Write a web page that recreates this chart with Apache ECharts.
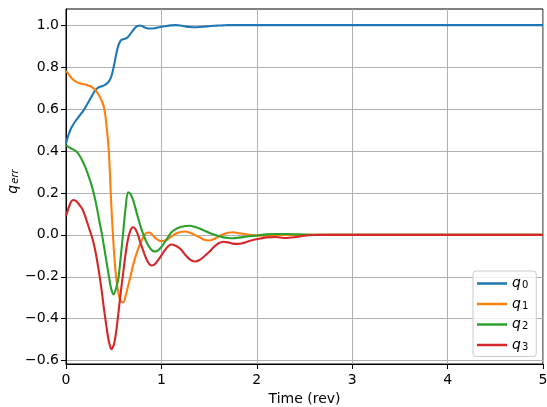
<!DOCTYPE html>
<html>
<head>
<meta charset="utf-8">
<script src="https://cdn.jsdelivr.net/npm/echarts@6/dist/echarts.min.js"></script>
<style>html,body{margin:0;padding:0;background:#fff;}#c{width:547px;height:407px;}</style>
</head>
<body>
<div id="c"></div>
<script>
// time (rev)
const time = [0,0.025,0.05,0.075,0.1,0.125,0.15,0.175,0.2,0.225,0.25,0.275,0.3,0.325,0.35,0.375,0.4,0.425,0.45,0.475,0.5,0.525,0.55,0.575,0.6,0.625,0.65,0.675,0.7,0.725,0.75,0.775,0.8,0.825,0.85,0.875,0.9,0.925,0.95,0.975,1.0,
  1.05,1.1,1.15,1.2,1.25,1.3,1.35,1.4,1.45,1.5,1.55,1.6,1.65,1.7,1.75,1.8,1.85,1.9,1.95,2.0,
  2.1,2.2,2.3,2.4,2.5,2.6,2.7,2.8,2.9,3.0,
  3.5,4.0,4.5,5.0];
const q0 = [0.435,0.475,0.505,0.525,0.543,0.558,0.573,0.588,0.605,0.625,0.645,0.665,0.685,0.698,0.705,0.709,0.713,0.72,0.732,0.755,0.8,0.858,0.905,0.927,0.933,0.936,0.944,0.958,0.974,0.988,0.996,0.998,0.995,0.989,0.985,0.984,0.984,0.985,0.987,0.99,0.992,
  0.996,0.999,1.0,0.998,0.994,0.991,0.99,0.991,0.993,0.995,0.997,0.998,0.999,1.0,1.0,1.0,1.0,1.0,1.0,1.0,
  1.0,1.0,1.0,1.0,1.0,1.0,1.0,1.0,1.0,1.0,
  1.0,1.0,1.0,1.0];
const q1 = [0.782,0.768,0.752,0.74,0.732,0.726,0.722,0.719,0.717,0.714,0.71,0.703,0.695,0.68,0.662,0.638,0.605,0.52,0.39,0.14,-0.06,-0.2,-0.28,-0.318,-0.322,-0.29,-0.245,-0.2,-0.15,-0.11,-0.075,-0.045,-0.02,0.0,0.01,0.011,0.003,-0.01,-0.02,-0.027,-0.03,
  -0.025,-0.01,0.005,0.014,0.016,0.01,0.0,-0.012,-0.024,-0.027,-0.02,-0.008,0.003,0.01,0.012,0.009,0.005,0.001,-0.002,-0.004,
  -0.003,-0.001,0,0,0,0,0,0,0,0,
  0,0,0,0];
const q2 = [0.428,0.42,0.413,0.407,0.4,0.39,0.372,0.35,0.325,0.295,0.262,0.225,0.18,0.125,0.065,0.007,-0.06,-0.13,-0.2,-0.26,-0.284,-0.255,-0.205,-0.1,0.015,0.13,0.203,0.195,0.17,0.132,0.09,0.05,0.015,-0.015,-0.04,-0.06,-0.073,-0.079,-0.078,-0.07,-0.058,
  -0.025,0.01,0.027,0.037,0.042,0.043,0.038,0.03,0.02,0.01,0.002,-0.006,-0.012,-0.015,-0.016,-0.014,-0.011,-0.008,-0.005,-0.003,
  0.002,0.004,0.004,0.003,0.001,0,0,0,0,0,
  0,0,0,0];
const q3 = [0.09,0.125,0.155,0.166,0.163,0.152,0.137,0.12,0.09,0.055,0.02,-0.015,-0.06,-0.12,-0.19,-0.27,-0.36,-0.44,-0.51,-0.545,-0.525,-0.465,-0.37,-0.27,-0.18,-0.09,-0.02,0.02,0.036,0.03,0.005,-0.03,-0.063,-0.095,-0.122,-0.14,-0.146,-0.142,-0.13,-0.115,-0.098,
  -0.065,-0.046,-0.052,-0.068,-0.095,-0.118,-0.127,-0.12,-0.102,-0.082,-0.058,-0.04,-0.033,-0.036,-0.042,-0.043,-0.04,-0.033,-0.026,-0.021,
  -0.012,-0.01,-0.015,-0.011,-0.004,-0.001,0,0,0,0,
  0,0,0,0];
const seriesNames = ['q0','q1','q2','q3'];
const seriesValues = [q0,q1,q2,q3];
const colors = ['#1f77b4','#ff7f0e','#2ca02c','#d62728'];
const yTicks = [-0.6,-0.4,-0.2,0.0,0.2,0.4,0.6,0.8,1.0];
const xTicks = [0,1,2,3,4,5];

const FONT = 'DejaVu Sans';
const rich = {
  q: {fontFamily: FONT, fontStyle: 'italic', fontSize: 14, lineHeight: 14, verticalAlign: 'top', color: '#000'},
  s: {fontFamily: FONT, fontSize: 10, lineHeight: 10, padding: [5,0,0,1], verticalAlign: 'bottom', color: '#000'},
  se: {fontFamily: FONT, fontStyle: 'italic', fontSize: 10, lineHeight: 10, padding: [5,0,0,1], verticalAlign: 'bottom', color: '#000'}
};

const chart = echarts.init(document.getElementById('c'), null, {renderer: 'canvas'});
chart.setOption({
  animation: false,
  backgroundColor: '#fff',
  grid: {left: 66, right: 4, top: 9, bottom: 43, show: true, borderColor: '#000', borderWidth: 1,
    backgroundColor: 'transparent', containLabel: false, outerBoundsMode: 'none'},
  xAxis: {
    type: 'value', min: 0, max: 5, interval: 1,
    name: 'Time (rev)', nameLocation: 'middle', nameGap: 28, nameMoveOverlap: false,
    nameTextStyle: {fontFamily: FONT, fontSize: 14, color: '#000'},
    axisLine: {show: true, onZero: false, lineStyle: {color: '#000', width: 1}},
    axisTick: {show: true, length: 5, lineStyle: {color: '#000', width: 1}},
    axisLabel: {fontFamily: FONT, fontSize: 14, color: '#000', margin: 9, formatter: v => String(v)},
    splitLine: {show: true, lineStyle: {color: '#b0b0b0', width: 1}}
  },
  yAxis: {
    type: 'value', min: -0.616, max: 1.077,
    name: '{q|q}{se|err}', nameLocation: 'middle', nameGap: 46, nameMoveOverlap: false,
    nameTextStyle: {rich: rich, padding: [0, 0, 0, 10]},
    axisLine: {show: true, onZero: false, lineStyle: {color: '#000', width: 1}},
    axisTick: {show: true, length: 5, customValues: yTicks, lineStyle: {color: '#000', width: 1}},
    axisLabel: {fontFamily: FONT, fontSize: 14, color: '#000', margin: 7, customValues: yTicks,
      formatter: v => (v < -1e-9 ? '\u2212' : '') + Math.abs(v).toFixed(1)},
    splitLine: {show: true, lineStyle: {color: '#b0b0b0', width: 1}}
  },
  legend: {
    orient: 'vertical', left: 473, top: 271,
    padding: [4.5, 8, 4.5, 4],
    itemGap: 5.5, itemWidth: 30, itemHeight: 2.5, itemTextGap: 9,
    icon: 'rect',
    borderColor: '#cccccc', borderWidth: 1, borderRadius: 3,
    backgroundColor: 'rgba(255,255,255,0.8)',
    data: seriesNames,
    formatter: name => '{q|q}{s|' + name.slice(1) + '}',
    textStyle: {rich: rich}
  },
  series: seriesNames.map((n, k) => ({
    name: n, type: 'line', showSymbol: false, smooth: 0.3,
    color: colors[k],
    lineStyle: {width: 2.1, color: colors[k]},
    data: time.map((t, i) => [t, seriesValues[k][i]]),
    z: 2 + k
  }))
});
</script>
</body>
</html>
